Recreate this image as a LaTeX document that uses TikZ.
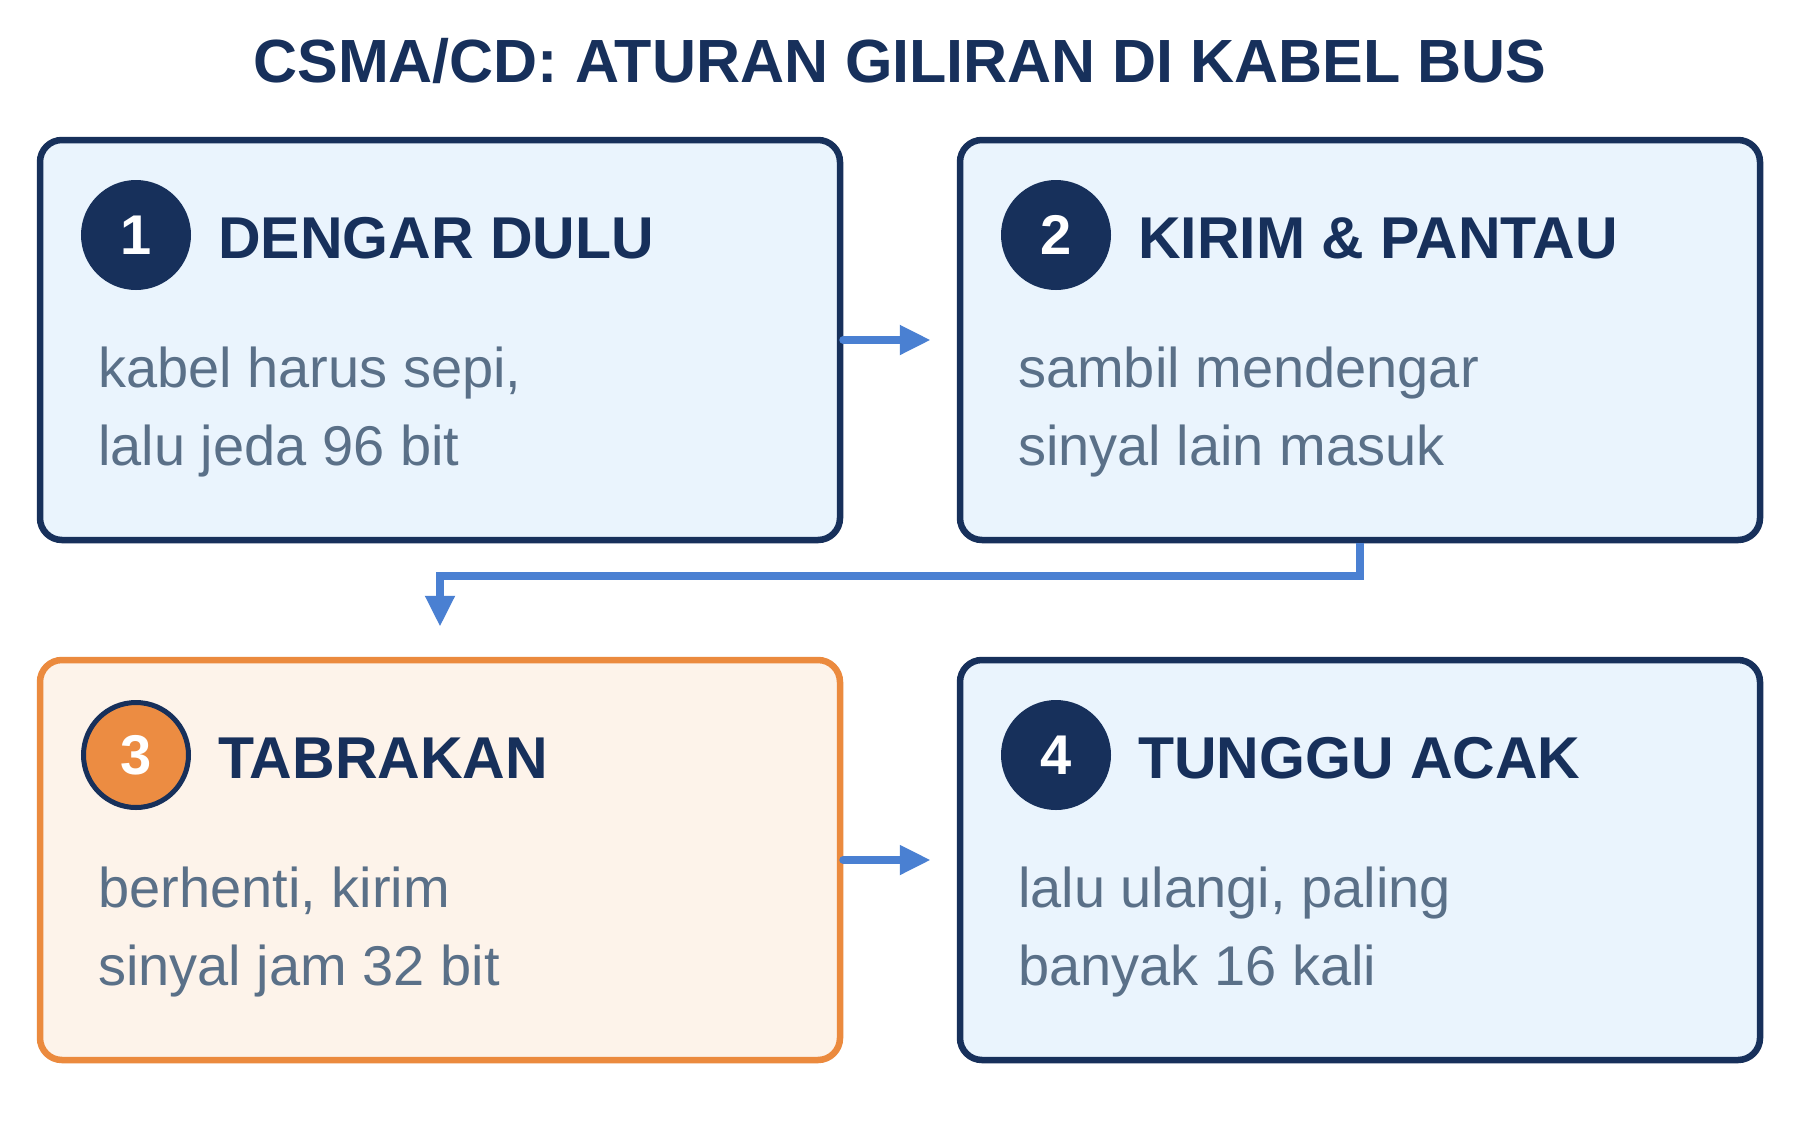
\documentclass[tikz,border=0pt]{standalone}
\usepackage{fontspec}
\setmainfont{Liberation Sans}
\usetikzlibrary{arrows.meta}
\definecolor{navy}{HTML}{17305B}
\definecolor{boxfill}{HTML}{EAF4FD}
\definecolor{warmfill}{HTML}{FDF3EA}
\definecolor{orangeln}{HTML}{EB8A3E}
\definecolor{orangefill}{HTML}{EC8C42}
\definecolor{bodytxt}{HTML}{5A7088}
\definecolor{connblue}{HTML}{4A80D2}
\tikzset{
  stepbox/.style={draw=navy, fill=boxfill, line width=6.5pt, rounded corners=22pt,
    minimum width=800pt, minimum height=400pt, inner sep=0pt},
  warnbox/.style={stepbox, draw=orangeln, fill=warmfill},
  numdot/.style={circle, fill=navy, draw=navy, line width=5pt, minimum size=105pt, inner sep=0pt,
    text=white, font=\bfseries\fontsize{56}{56}\selectfont},
  warndot/.style={numdot, fill=orangefill},
  headtxt/.style={anchor=base west, inner sep=0pt, text=navy, font=\bfseries\fontsize{59}{59}\selectfont},
  bodyline/.style={anchor=base west, inner sep=0pt, text=bodytxt, font=\fontsize{56}{56}\selectfont},
  titletxt/.style={anchor=base, inner sep=0pt, text=navy, font=\bfseries\fontsize{61}{61}\selectfont},
  conn/.style={draw=connblue, line width=8pt, -{Triangle[length=31pt,width=28pt]}}
}
\begin{document}
\begin{tikzpicture}[x=1pt,y=-1pt]
\useasboundingbox (0,0) rectangle (1800,1120);
\fill[white] (0,0) rectangle (1800,1120);

\node[titletxt] (title) at (900,82) {CSMA/CD: ATURAN GILIRAN DI KABEL BUS};

% boxes
\node[stepbox] (b1) at (440,340) {};
\node[stepbox] (b2) at (1360,340) {};
\node[warnbox] (b3) at (440,860) {};
\node[stepbox] (b4) at (1360,860) {};

% box 1
\node[numdot] (c1) at (136,235) {1};
\node[headtxt] (h1) at (218,258) {DENGAR DULU};
\node[bodyline] (t1a) at (98,387) {kabel harus sepi,};
\node[bodyline] (t1b) at (98,465) {lalu jeda 96 bit};

% box 2
\node[numdot] (c2) at (1056,235) {2};
\node[headtxt] (h2) at (1138,258) {KIRIM \& PANTAU};
\node[bodyline] (t2a) at (1018,387) {sambil mendengar};
\node[bodyline] (t2b) at (1018,465) {sinyal lain masuk};

% box 3
\node[warndot] (c3) at (136,755) {3};
\node[headtxt] (h3) at (218,778) {TABRAKAN};
\node[bodyline] (t3a) at (98,907) {berhenti, kirim};
\node[bodyline] (t3b) at (98,985) {sinyal jam 32 bit};

% box 4
\node[numdot] (c4) at (1056,755) {4};
\node[headtxt] (h4) at (1138,778) {TUNGGU ACAK};
\node[bodyline] (t4a) at (1018,907) {lalu ulangi, paling};
\node[bodyline] (t4b) at (1018,985) {banyak 16 kali};

% connectors
\draw[conn, line cap=round] (b1.east) -- ([xshift=-26pt]b2.west);
\draw[conn] (b2.south) -- ++(0,33) -| ([yshift=30pt]b3.north);
\draw[conn, line cap=round] (b3.east) -- ([xshift=-26pt]b4.west);
\end{tikzpicture}
\end{document}
